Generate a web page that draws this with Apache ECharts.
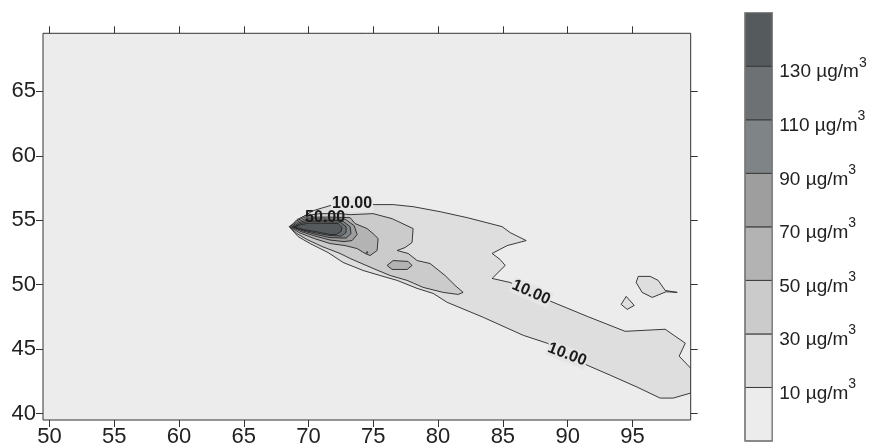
<!DOCTYPE html>
<html><head><meta charset="utf-8">
<script src="https://cdn.jsdelivr.net/npm/echarts@6/dist/echarts.min.js"></script>
<style>html,body{margin:0;padding:0;background:#fff}#chart{width:890px;height:448px}</style>
</head><body><div id="chart"></div>
<script>
// ---- axis ticks ----
const xTicks = [50, 55, 60, 65, 70, 75, 80, 85, 90, 95];
const yTicks = [40, 45, 50, 55, 60, 65];

// ---- contour levels (µg/m3) ----
const levels = [10, 30, 50, 70, 90, 110, 130];
const bandLow  = [-10, 10, 30, 50, 70, 90, 110, 130];
const bandHigh = [10, 30, 50, 70, 90, 110, 130, 150];

// ---- contour polygons [lon, lat] ----
const contour10 = [[68.50,54.50],[69.35,55.12],[70.35,55.74],[71.66,56.13],[73.21,56.28],[75.14,56.21],[76.53,56.21],[78.07,56.05],[80.16,55.66],[82.24,55.20],[84.94,54.50],[85.56,54.04],[86.80,53.42],[85.33,53.03],[84.17,52.42],[84.79,51.95],[85.18,51.49],[84.17,50.48],[85.56,50.17],[87.11,49.40],[88.88,48.63],[91.51,47.54],[94.44,46.38],[97.53,46.54],[99.08,45.46],[98.61,44.45],[99.50,43.52],[99.50,41.59],[98.15,41.20],[97.14,41.20],[95.37,42.05],[93.28,42.98],[91.51,43.75],[89.96,44.53],[88.42,45.46],[86.57,46.07],[83.48,47.47],[80.70,48.63],[79.62,49.32],[78.38,49.71],[76.84,50.33],[75.52,50.71],[74.21,51.10],[72.67,51.72],[71.51,52.49],[70.12,53.19],[69.19,53.73]];
const contour10IslandA = [[95.45,50.64],[96.37,50.64],[96.99,50.33],[97.53,49.55],[98.46,49.40],[97.60,49.45],[96.53,49.01],[95.75,49.40],[95.29,50.17]];
const contour10IslandB = [[94.52,49.09],[95.14,48.39],[94.60,48.08],[94.13,48.47]];
const contour30 = [[68.57,54.47],[69.11,55.05],[69.73,55.35],[70.89,55.51],[72.43,55.51],[73.21,55.43],[74.98,55.51],[76.45,55.12],[78.07,54.35],[77.99,53.27],[77.45,52.88],[76.84,52.65],[77.69,52.42],[78.38,51.87],[79.38,51.64],[80.54,50.71],[81.31,49.94],[81.93,49.40],[81.55,49.24],[80.39,49.40],[78.84,49.79],[77.61,50.33],[76.30,50.71],[74.98,51.26],[73.21,52.03],[72.43,52.42],[71.04,52.96],[69.89,53.50],[69.11,53.96]];
const contour50 = [[68.61,54.47],[69.11,54.97],[69.73,55.24],[71.66,55.24],[73.21,55.20],[73.59,54.74],[74.52,54.35],[74.98,53.96],[75.37,53.58],[75.29,52.65],[74.75,52.26],[74.36,52.42],[73.75,52.80],[72.82,53.03],[71.66,53.19],[70.43,53.58],[69.27,54.04]];
const contour50Hex = [[76.06,51.49],[76.53,51.87],[77.69,51.80],[77.99,51.49],[77.61,51.18],[76.45,51.18]];
const contour50Dot = [[74.45,52.52],[74.55,52.56],[74.58,52.47],[74.48,52.44]];
const contour70 = [[68.69,54.47],[69.19,54.89],[69.81,55.12],[72.82,55.08],[73.52,54.58],[73.75,53.89],[73.36,53.42],[72.74,53.34],[71.66,53.46],[70.50,53.77],[69.42,54.12]];
const contour90 = [[68.77,54.47],[69.27,54.81],[69.89,55.01],[72.59,54.97],[73.21,54.50],[73.28,53.96],[72.90,53.61],[71.66,53.65],[70.58,53.89],[69.50,54.19]];
const contour110 = [[68.84,54.47],[69.35,54.74],[69.96,54.89],[72.43,54.85],[72.90,54.50],[72.90,54.04],[72.51,53.77],[71.66,53.81],[70.66,54.00],[69.58,54.23]];
const contour130 = [[68.92,54.47],[69.42,54.66],[70.04,54.77],[72.28,54.74],[72.59,54.43],[72.51,54.12],[72.13,53.89],[71.66,53.89],[70.74,54.08],[69.65,54.27]];

// ---- contour labels ----
const labelText = ['10.00', '50.00', '10.00', '10.00'];
const labelLon  = [73.36, 71.28, 87.18, 89.96];
const labelLat  = [56.26, 55.20, 49.40, 44.58];

// ---------- styling / assembly ----------
const fillByLevel = {10:'#dedede',30:'#cbcbcb',50:'#b3b3b3',70:'#9e9e9e',90:'#7f8487',110:'#6d7173',130:'#555a5d'};
const bandColors = ['#ececec','#dedede','#cbcbcb','#b3b3b3','#9e9e9e','#7f8487','#6d7173','#555a5d'];
const labelAngleDeg = [0, 0, -24, -21];
const labelBg = ['#e6e6e6', null, '#e5e5e5', '#e5e5e5'];
const FONT = 'Liberation Sans, Arial, sans-serif';

const polygons = [
  {pts: contour10, level: 10}, {pts: contour10IslandA, level: 10}, {pts: contour10IslandB, level: 10},
  {pts: contour30, level: 30},
  {pts: contour50, level: 50}, {pts: contour50Hex, level: 50}, {pts: contour50Dot, level: 50},
  {pts: contour70, level: 70}, {pts: contour90, level: 90},
  {pts: contour110, level: 110}, {pts: contour130, level: 130}
];

const chart = echarts.init(document.getElementById('chart'), null, {renderer: 'canvas'});
const axisTxt = {color: '#222', fontSize: 22, fontFamily: FONT};

const option = {
  animation: false,
  backgroundColor: '#fff',
  grid: [
    {left: 43, top: 33.3, right: 199.3, bottom: 28, show: true, backgroundColor: '#ececec', borderColor: '#333', borderWidth: 1},
    {left: 745, top: 12.7, width: 27.3, height: 428.3, show: false}
  ],
  xAxis: [
    {type: 'value', gridIndex: 0, position: 'bottom', min: 49.5, max: 99.5,
     axisLine: {show: false}, splitLine: {show: false},
     axisTick: {show: true, inside: false, length: 7, customValues: xTicks, lineStyle: {color: '#333'}},
     axisLabel: {show: true, customValues: xTicks, margin: 6, ...axisTxt}},
    {type: 'value', gridIndex: 0, position: 'top', min: 49.5, max: 99.5,
     axisLine: {show: false}, splitLine: {show: false},
     axisTick: {show: true, inside: false, length: 7, customValues: xTicks, lineStyle: {color: '#333'}},
     axisLabel: {show: false}},
    {type: 'value', gridIndex: 1, min: 0, max: 1, show: false}
  ],
  yAxis: [
    {type: 'value', gridIndex: 0, position: 'left', min: 39.5, max: 69.5,
     axisLine: {show: false}, splitLine: {show: false},
     axisTick: {show: true, inside: false, length: 7, customValues: yTicks, lineStyle: {color: '#333'}},
     axisLabel: {show: true, customValues: yTicks, margin: 7, ...axisTxt}},
    {type: 'value', gridIndex: 0, position: 'right', min: 39.5, max: 69.5,
     axisLine: {show: false}, splitLine: {show: false},
     axisTick: {show: true, inside: false, length: 7, customValues: yTicks, lineStyle: {color: '#333'}},
     axisLabel: {show: false}},
    {type: 'value', gridIndex: 1, position: 'right', min: -10, max: 150, interval: 20,
     axisLine: {show: false}, splitLine: {show: false}, axisTick: {show: false},
     axisLabel: {show: true, margin: 7, padding: [5, 0, 0, 0],
       formatter: v => levels.indexOf(v) >= 0 ? '{a|' + v + ' µg/m}{s|3}' : '',
       rich: {
         a: {fontSize: 19, color: '#222', fontFamily: FONT, lineHeight: 26, verticalAlign: 'bottom'},
         s: {fontSize: 14, color: '#222', fontFamily: FONT, lineHeight: 14, verticalAlign: 'top'}
       }}}
  ],
  series: [
    {
      type: 'custom', xAxisIndex: 0, yAxisIndex: 0, clip: true,
      data: polygons.map(p => p.pts[0]),
      encode: {x: 0, y: 1},
      renderItem: (params, api) => {
        const poly = polygons[params.dataIndex];
        return {type: 'polygon', shape: {points: poly.pts.map(p => api.coord(p))},
          style: {fill: fillByLevel[poly.level], stroke: '#262626', lineWidth: 0.9}};
      }
    },
    {
      type: 'custom', xAxisIndex: 0, yAxisIndex: 0, z: 5,
      data: labelText.map((t, i) => [labelLon[i], labelLat[i]]),
      encode: {x: 0, y: 1},
      renderItem: (params, api) => {
        const i = params.dataIndex;
        const c = api.coord([labelLon[i], labelLat[i]]);
        const st = {text: labelText[i], fill: '#1a1a1a', fontSize: 16, fontWeight: 'bold', fontFamily: FONT,
                    align: 'center', verticalAlign: 'middle'};
        if (labelBg[i]) { st.backgroundColor = labelBg[i]; st.padding = [0, 1]; }
        return {type: 'text', x: c[0], y: c[1], rotation: labelAngleDeg[i] * Math.PI / 180, style: st};
      }
    },
    {
      type: 'custom', xAxisIndex: 2, yAxisIndex: 2,
      data: bandLow.map((lo, i) => [0, lo, bandHigh[i]]),
      encode: {x: 0, y: 1},
      renderItem: (params, api) => {
        const i = params.dataIndex;
        const p0 = api.coord([0, bandHigh[i]]);
        const p1 = api.coord([1, bandLow[i]]);
        return {type: 'rect', shape: {x: p0[0], y: p0[1], width: p1[0] - p0[0], height: p1[1] - p0[1]},
          style: {fill: bandColors[i], stroke: '#3a3a3a', lineWidth: 1}};
      }
    },
    {
      type: 'custom', xAxisIndex: 2, yAxisIndex: 2, z: 4,
      data: [[0, bandLow[0]]],
      encode: {x: 0, y: 1},
      renderItem: (params, api) => {
        const p0 = api.coord([0, bandHigh[bandHigh.length - 1]]);
        const p1 = api.coord([1, bandLow[0]]);
        return {type: 'rect', shape: {x: p0[0], y: p0[1], width: p1[0] - p0[0], height: p1[1] - p0[1]},
          style: {fill: 'none', stroke: '#858585', lineWidth: 1.3}};
      }
    }
  ]
};
chart.setOption(option);
</script>
</body></html>
